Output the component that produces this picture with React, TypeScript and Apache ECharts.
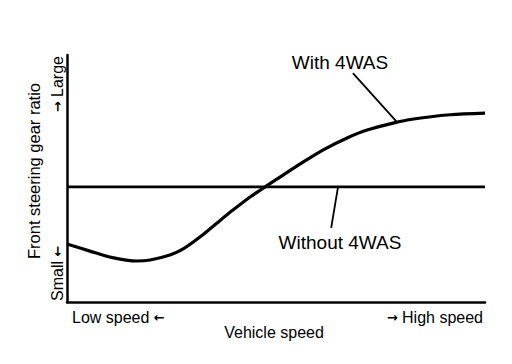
import React, { useEffect, useRef } from "react";
import * as echarts from "echarts";

const speedX = [0, 5.5, 10.3, 16.7, 19.9, 24.6, 27.8, 31.8, 35.9, 39.7, 43.8, 47.4, 51.7, 55.7, 61.2, 67.0, 71.8, 78.5, 82.1, 91.6, 100];
const withRatio = [23.5, 20.6, 18.2, 16.6, 17.0, 19.0, 21.5, 26.3, 32.0, 37.2, 42.5, 46.6, 51.4, 55.8, 61.5, 66.4, 69.6, 72.6, 73.9, 75.8, 76.5];
const withoutX = [0, 100];
const withoutRatio = [46.6, 46.6];
const withLeader = [[68.4, 92.7], [78.9, 72.9]];
const withoutLeader = [[64.8, 46.2], [63.2, 30.0]];

const FONT = "'Liberation Sans', Arial, sans-serif";

export default function App() {
  const ref = useRef<HTMLDivElement>(null);
  useEffect(() => {
    if (!ref.current) return;
    const chart = echarts.init(ref.current, undefined, { renderer: "svg" });
    const rich = {
      a: { fontFamily: "'DejaVu Sans', sans-serif", fontSize: 13, fontWeight: "bold", fill: "#000", color: "#000" },
    };
    const txt = (x: number, y: number, text: string, size: number, align: string, rotation = 0) => ({
      type: "text",
      x,
      y,
      rotation,
      style: { text, fontSize: size, fontFamily: FONT, fill: "#000", align, verticalAlign: "middle", rich },
    });
    chart.setOption({
      animation: false,
      backgroundColor: "#fff",
      grid: { left: 67, right: 27, top: 55, bottom: 62 },
      xAxis: {
        type: "value",
        min: 0,
        max: 100,
        axisLine: { show: true, onZero: false, lineStyle: { color: "#000", width: 2.5 } },
        axisTick: { show: false },
        axisLabel: { show: false },
        splitLine: { show: false },
      },
      yAxis: {
        type: "value",
        min: 0,
        max: 100,
        axisLine: { show: true, onZero: false, lineStyle: { color: "#000", width: 2.5 } },
        axisTick: { show: false },
        axisLabel: { show: false },
        splitLine: { show: false },
      },
      series: [
        {
          type: "line",
          data: speedX.map((x, i) => [x, withRatio[i]]),
          smooth: 0.3,
          symbol: "none",
          lineStyle: { color: "#000", width: 3.2 },
          markLine: {
            silent: true,
            symbol: "none",
            label: { show: false },
            lineStyle: { color: "#000", width: 1.8, type: "solid" },
            data: [
              [{ coord: withLeader[0] }, { coord: withLeader[1] }],
              [{ coord: withoutLeader[0] }, { coord: withoutLeader[1] }],
            ],
          },
        },
        {
          type: "line",
          data: withoutX.map((x, i) => [x, withoutRatio[i]]),
          symbol: "none",
          lineStyle: { color: "#000", width: 2.8 },
        },
      ],
      graphic: [
        txt(340, 62, "With 4WAS", 19, "center"),
        txt(340, 242, "Without 4WAS", 19, "center"),
        txt(72, 317, "Low speed {a|←}", 16, "left"),
        txt(483, 317, "{a|→} High speed", 16, "right"),
        txt(274, 332, "Vehicle speed", 16, "center"),
        txt(34, 171, "Front steering gear ratio", 16.5, "center", Math.PI / 2),
        txt(57, 301, "Small {a|←}", 16, "left", Math.PI / 2),
        txt(57, 56, "{a|→} Large", 16, "right", Math.PI / 2),
      ],
    });
    return () => chart.dispose();
  }, []);
  return <div ref={ref} style={{ position: "absolute", left: 0, top: 0, width: 512, height: 364 }} />;
}
